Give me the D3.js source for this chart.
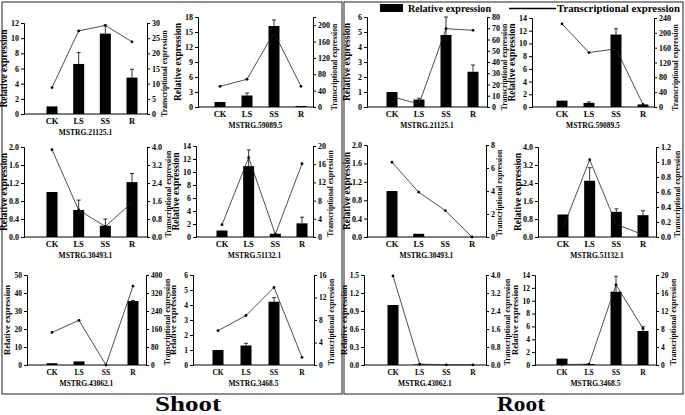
<!DOCTYPE html>
<html><head><meta charset="utf-8">
<script src="https://cdn.jsdelivr.net/npm/d3@7/dist/d3.min.js"></script>
<style>
body{margin:0;background:#fff;}
svg text{font-family:"Liberation Serif","Times New Roman",serif;font-weight:bold;fill:#000;}
</style></head><body>
<svg id="c" width="685" height="415"></svg>
<script>
// ---------- DATA ----------
const categories = ["CK", "LS", "SS", "R"];
const genes = ["MSTRG.21125.1", "MSTRG.59089.5", "MSTRG.21125.1", "MSTRG.59089.5",
               "MSTRG.30493.1", "MSTRG.51132.1", "MSTRG.30493.1", "MSTRG.51132.1",
               "MSTRG.43062.1", "MSTRG.3468.5", "MSTRG.43062.1", "MSTRG.3468.5"];
// relative expression (bars, left axis)
const relative = [
  [1.0, 6.6, 10.6, 4.8],
  [1.0, 2.3, 16.2, 0.2],
  [1.0, 0.5, 4.8, 2.35],
  [1.0, 0.65, 11.4, 0.4],
  [1.0, 0.6, 0.25, 1.22],
  [1.0, 10.9, 0.5, 2.1],
  [1.0, 0.07, 0, 0],
  [1.0, 2.5, 1.12, 0.97],
  [1.0, 2.0, 0, 35.5],
  [1.0, 1.3, 4.22, 0],
  [1.0, 0.01, 0, 0],
  [1.0, 0.15, 11.4, 5.3]
];
const relErr = [
  [0, 1.5, 1.1, 1.1],
  [0, 0.5, 1.2, 0],
  [0, 0.08, 1.2, 0.45],
  [0, 0.15, 0.9, 0],
  [0, 0.22, 0.15, 0.19],
  [0, 2.5, 0, 0.95],
  [0, 0, 0, 0],
  [0, 0.58, 0.13, 0.2],
  [0, 0, 0, 0.3],
  [0, 0.15, 0.27, 0],
  [0, 0, 0, 0],
  [0, 0, 2.4, 0.65]
];
// transcriptional expression (line, right axis)
const transcriptional = [
  [8.7, 27.4, 29.2, 23.8],
  [50.6, 67.8, 182, 50.6],
  [9.2, 2.6, 69.6, 68.2],
  [224, 146.7, 157, 7],
  [3.88, 1.2, 0.47, 1.53],
  [2.7, 17.45, 0.6, 16.1],
  [6.5, 3.9, 2.3, 0],
  [0.12, 1.03, 0.17, 0.03],
  [145, 198.5, 0, 351],
  [6.1, 8.8, 13.8, 1.36],
  [3.96, 0.04, 0.01, 0.01],
  [0.1, 0.2, 17.8, 8.1]
];
// axis tick values
const leftTicks = [
  [0, 2, 4, 6, 8, 10, 12],
  [0, 3, 6, 9, 12, 15, 18],
  [0, 1, 2, 3, 4, 5, 6],
  [0, 2, 4, 6, 8, 10, 12, 14],
  [0, 0.4, 0.8, 1.2, 1.6, 2.0],
  [0, 2, 4, 6, 8, 10, 12, 14],
  [0, 0.4, 0.8, 1.2, 1.6, 2.0],
  [0, 0.8, 1.6, 2.4, 3.2, 4.0],
  [0, 10, 20, 30, 40, 50],
  [0, 1, 2, 3, 4, 5, 6],
  [0, 0.3, 0.6, 0.9, 1.2, 1.5],
  [0, 2, 4, 6, 8, 10, 12, 14]
];
const rightTicks = [
  [0, 5, 10, 15, 20, 25, 30],
  [0, 40, 80, 120, 160, 200],
  [0, 10, 20, 30, 40, 50, 60, 70, 80],
  [0, 40, 80, 120, 160, 200, 240],
  [0, 0.8, 1.6, 2.4, 3.2, 4.0],
  [0, 4, 8, 12, 16, 20],
  [0, 2, 4, 6, 8],
  [0, 0.2, 0.4, 0.6, 0.8, 1.0, 1.2],
  [0, 80, 160, 240, 320, 400],
  [0, 4, 8, 12, 16],
  [0, 0.8, 1.6, 2.4, 3.2, 4.0],
  [0, 4, 8, 12, 16, 20]
];
const rightMax = [30, 220, 80, 240, 4.0, 20, 8, 1.2, 400, 16, 4.0, 20];
const leftDecimals = [0, 0, 0, 0, 1, 0, 1, 1, 0, 0, 1, 0];
const rightDecimals = [0, 0, 0, 0, 1, 0, 0, 1, 0, 0, 1, 0];
const legendLabels = ["Relative expression", "Transcriptional expression"];
const sectionLabels = ["Shoot", "Root"];

// ---------- LAYOUT ----------
// [left axis x, right axis x, top y, base y, first category x, last category x]
const layout = [
  [24, 147, 23, 114, 52, 132],
  [198, 313, 17, 107, 220, 301],
  [367, 487, 17, 107, 392, 473],
  [532, 654, 18, 107, 562, 643],
  [24, 147, 147, 237, 52, 132],
  [196, 313, 146, 237, 222, 302],
  [367, 486, 145, 237, 392, 472],
  [538, 656, 147, 237, 563, 643],
  [27, 146, 275, 365, 52, 133],
  [193, 314, 275, 365, 218, 302],
  [364, 486, 275, 365, 393, 473],
  [535, 656, 275, 365, 562, 643]
];

const svg = d3.select("#c");

// frames
svg.append("rect").attr("x", 2).attr("y", 2).attr("width", 340).attr("height", 392)
  .attr("fill", "none").attr("stroke", "#444").attr("stroke-width", 1.2);
svg.append("rect").attr("x", 344).attr("y", 2).attr("width", 339).attr("height", 392)
  .attr("fill", "none").attr("stroke", "#444").attr("stroke-width", 1.2);

layout.forEach((L, i) => {
  const [xl, xr, yt, yb, c0, c1] = L;
  const lMax = leftTicks[i][leftTicks[i].length - 1];
  const yL = d3.scaleLinear().domain([0, lMax]).range([yb, yt]);
  const yR = d3.scaleLinear().domain([0, rightMax[i]]).range([yb, yt]);
  const x = d3.scalePoint().domain(categories).range([c0, c1]);
  const g = svg.append("g");
  const small = i >= 8;
  const tickFs = small ? 7.5 : 8;

  // left axis
  const la = g.append("g").attr("transform", `translate(${xl},0)`)
    .call(d3.axisLeft(yL).tickValues(leftTicks[i]).tickSize(3).tickPadding(2)
      .tickFormat(d => d.toFixed(leftDecimals[i])));
  // right axis
  const ra = g.append("g").attr("transform", `translate(${xr},0)`)
    .call(d3.axisRight(yR).tickValues(rightTicks[i]).tickSize(3).tickPadding(2)
      .tickFormat(d => d.toFixed(rightDecimals[i])));
  [la, ra].forEach(a => {
    a.selectAll("path,line").attr("stroke", "#000").attr("stroke-width", 1);
    a.selectAll("text").style("font-size", tickFs + "px")
      .style("font-family", "'Liberation Serif',serif").style("font-weight", "bold")
      .attr("fill", "#000");
  });
  // x axis baseline
  g.append("line").attr("x1", xl).attr("x2", xr).attr("y1", yb).attr("y2", yb)
    .attr("stroke", "#000").attr("stroke-width", 1);

  // bars
  const bw = 11;
  g.selectAll(".bar").data(relative[i]).join("rect")
    .attr("x", (d, j) => x(categories[j]) - bw / 2)
    .attr("y", d => yL(d))
    .attr("width", bw)
    .attr("height", d => yb - yL(d))
    .attr("fill", "#000");
  // error bars
  relative[i].forEach((v, j) => {
    const e = relErr[i][j];
    if (e <= 0) return;
    const cx = x(categories[j]);
    g.append("line").attr("x1", cx).attr("x2", cx).attr("y1", yL(v)).attr("y2", yL(v + e))
      .attr("stroke", "#000").attr("stroke-width", 0.8);
    g.append("line").attr("x1", cx - 2).attr("x2", cx + 2).attr("y1", yL(v + e)).attr("y2", yL(v + e))
      .attr("stroke", "#000").attr("stroke-width", 0.8);
  });
  // line
  const line = d3.line().x((d, j) => x(categories[j])).y(d => yR(d));
  g.append("path").datum(transcriptional[i]).attr("d", line)
    .attr("fill", "none").attr("stroke", "#222").attr("stroke-width", 0.8);
  g.selectAll(".dot").data(transcriptional[i]).join("circle")
    .attr("cx", (d, j) => x(categories[j])).attr("cy", d => yR(d)).attr("r", 1.4)
    .attr("fill", "#000");

  // category labels
  categories.forEach(c => {
    g.append("text").attr("x", x(c)).attr("y", yb + 10).attr("text-anchor", "middle")
      .style("font-size", (small ? 7.5 : 8.5) + "px").text(c);
  });
  // gene title
  g.append("text").attr("x", (xl + xr) / 2).attr("y", yb + 21).attr("text-anchor", "middle")
    .style("font-size", "7.5px").text(genes[i]);
  // axis titles
  const ym = (yt + yb) / 2;
  g.append("text").attr("transform", `translate(${xl - 17},${ym}) rotate(-90)`)
    .attr("text-anchor", "middle").style("font-size", (small ? 8.5 : 9.5) + "px")
    .text("Relative expression");
  const rOff = d3.max(rightTicks[i], d => d.toFixed(rightDecimals[i]).length) * 4 + 10;
  const rShift = i < 4 ? 5 : 2;
  g.append("text").attr("transform", `translate(${xr + rOff},${ym + rShift}) rotate(-90)`)
    .attr("text-anchor", "middle").attr("dominant-baseline", "middle")
    .style("font-size", "7.6px")
    .text("Transcriptional expression");
});

// legend
svg.append("rect").attr("x", 380).attr("y", 4).attr("width", 23).attr("height", 8).attr("fill", "#000");
svg.append("text").attr("x", 408).attr("y", 11.5).style("font-size", "10.5px")
  .attr("textLength", 83).attr("lengthAdjust", "spacingAndGlyphs").text(legendLabels[0]);
svg.append("line").attr("x1", 509).attr("x2", 556).attr("y1", 8.5).attr("y2", 8.5)
  .attr("stroke", "#000").attr("stroke-width", 1.5);
svg.append("text").attr("x", 557).attr("y", 11.5).style("font-size", "10.5px")
  .attr("textLength", 123).attr("lengthAdjust", "spacingAndGlyphs").text(legendLabels[1]);

// section labels
svg.append("text").attr("x", 188).attr("y", 411).attr("text-anchor", "middle")
  .style("font-size", "21px").attr("textLength", 66).attr("lengthAdjust", "spacingAndGlyphs")
  .text(sectionLabels[0]);
svg.append("text").attr("x", 521).attr("y", 411).attr("text-anchor", "middle")
  .style("font-size", "21px").attr("textLength", 48).attr("lengthAdjust", "spacingAndGlyphs")
  .text(sectionLabels[1]);
</script>
</body></html>
